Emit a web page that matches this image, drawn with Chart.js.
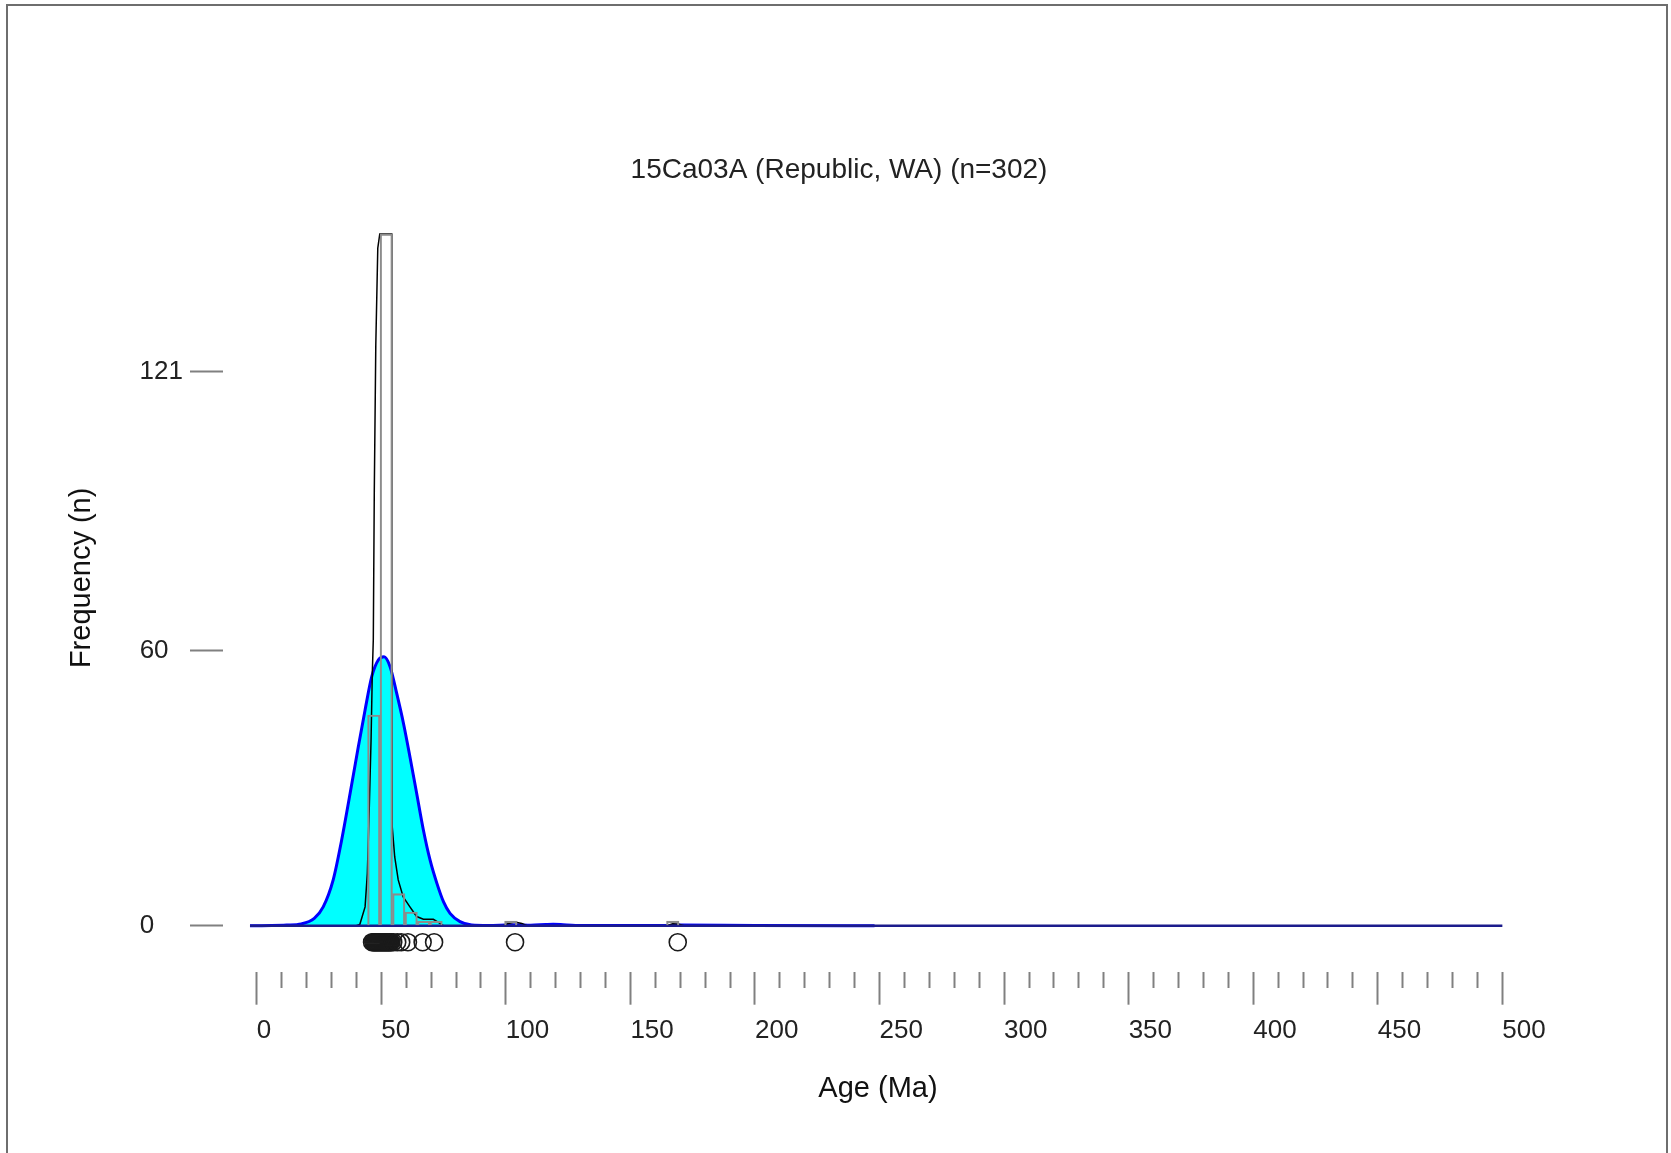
<!DOCTYPE html>
<html>
<head>
<meta charset="utf-8">
<script src="https://cdn.jsdelivr.net/npm/chart.js@4.4.1/dist/chart.umd.min.js"></script>
<style>
  html, body { margin: 0; padding: 0; background: #fff; overflow: hidden; }
  #wrap { position: relative; width: 1671px; height: 1153px; }
  #frame { position: absolute; left: 6px; top: 4px; width: 1658px; height: 1300px; border: 2px solid #6e6e6e; pointer-events: none; }
</style>
</head>
<body>
<div id="wrap">
  <canvas id="chart" width="1671" height="1153"></canvas>
  <div id="frame"></div>
</div>
<script>
// chart text
const chartTitle = "15Ca03A (Republic, WA) (n=302)";
const xTitle = "Age (Ma)";
const yTitle = "Frequency (n)";

// axis ticks
const xTicks = [0, 10, 20, 30, 40, 50, 60, 70, 80, 90, 100, 110, 120, 130, 140, 150, 160, 170, 180, 190,
  200, 210, 220, 230, 240, 250, 260, 270, 280, 290, 300, 310, 320, 330, 340, 350, 360, 370, 380, 390,
  400, 410, 420, 430, 440, 450, 460, 470, 480, 490, 500];
const yTicks = [0, 60, 121];

// kernel density estimate (cyan)
const kdeAge = [-2.7, 6, 12, 17.9, 23.1, 26.7, 30.7, 34.1, 37.5, 40.8, 43.5, 46.2, 48.8, 51.1, 53.5, 56.2,
  58.9, 61.5, 64.2, 66.9, 69.6, 72.3, 75.0, 77.6, 81.6, 86.3, 93, 100, 104, 110, 116, 119, 122, 128,
  165, 170, 200, 248];
const kdeVal = [0, 0.05, 0.15, 0.4, 1.6, 4.1, 10.0, 18.7, 28.9, 39.1, 47.1, 54.4, 58.0, 58.7, 56.6, 50.7,
  44.2, 36.9, 28.9, 20.9, 14.3, 9.3, 5.2, 2.7, 0.9, 0.15, 0.05, 0.15, 0.2, 0.1, 0.25, 0.3, 0.25, 0.05,
  0.05, 0.15, 0.05, 0];

// probability density plot (black line, top cut at plot limit)
const pdpAge = [40, 41.4, 43.5, 44.4, 45.2, 45.9, 46.4, 46.8, 47.2, 47.8, 48.6, 49.4, 54.2, 54.25, 54.4,
  55.4, 56.8, 58.8, 61.5, 64.2, 66.9, 70.9, 73.6, 74.9, 99, 101, 103.7, 106.4, 108.5, 164.5, 167, 169.5, 171.5];
const pdpVal = [0, 0.3, 4.1, 11.4, 26, 40.5, 55.1, 62.4, 94.9, 126.7, 147.9, 151, 151, 62.4, 21.6,
  15, 10, 6.3, 4.1, 2, 1.4, 1.4, 0.5, 0, 0, 0.5, 0.8, 0.5, 0, 0, 0.4, 0.3, 0];

// histogram, 5 Ma bins
const binCenter = [47, 52, 57, 62, 67, 72, 102, 167];
const binCount = [46, 151, 7, 3, 1, 1, 1, 1];

// zero line
const baseAge = [-2.7, 500];
const baseVal = [0, 0];

// individual grain ages (open circles under the curves)
const grainAge = [46.3, 46.8, 47.2, 47.6, 48.0, 48.4, 48.8, 49.2, 49.6, 50.0, 50.4, 50.8, 51.2, 51.6, 52.0,
  52.4, 52.8, 53.2, 53.6, 54.0, 54.8, 56.4, 58.0, 60.7, 66.6, 71.2, 103.7, 169.0];
const grainRow = -3.6;

const ff = "'Liberation Sans', Arial, sans-serif";
const tickGray = "#808080";

const toXY = (xs, ys) => xs.map((x, i) => ({ x: x, y: ys[i] }));

new Chart(document.getElementById("chart"), {
  type: "line",
  data: {
    datasets: [
      {
        type: "scatter",
        data: grainAge.map((a) => ({ x: a, y: grainRow })),
        pointRadius: 8.5,
        pointBorderWidth: 1.6,
        pointBorderColor: "#1a1a1a",
        pointBackgroundColor: "rgba(0,0,0,0)",
        showLine: false,
        order: 0,
      },
      {
        type: "bar",
        data: toXY(binCenter, binCount),
        borderColor: "#8c8c8c",
        borderWidth: 1.5,
        backgroundColor: "rgba(0,0,0,0)",
        categoryPercentage: 1,
        barPercentage: 1,
        order: 1,
      },
      {
        data: toXY(baseAge, baseVal),
        borderColor: "#1c1c8c",
        borderWidth: 2.5,
        pointRadius: 0,
        order: 2,
      },
      {
        data: toXY(pdpAge, pdpVal),
        borderColor: "#000",
        borderWidth: 1.5,
        pointRadius: 0,
        tension: 0,
        fill: false,
        order: 3,
      },
      {
        data: toXY(kdeAge, kdeVal),
        borderColor: "#0000ff",
        borderWidth: 3,
        backgroundColor: "#00ffff",
        fill: "origin",
        pointRadius: 0,
        cubicInterpolationMode: "monotone",
        order: 4,
      },
    ],
  },
  options: {
    responsive: false,
    animation: false,
    events: [],
    devicePixelRatio: 1,
    layout: { padding: { top: 5, left: 7, right: 0, bottom: 0 } },
    plugins: {
      legend: { display: false },
      tooltip: { enabled: false },
      title: {
        display: true,
        text: chartTitle,
        color: "#222",
        font: { family: ff, size: 28, weight: "normal", lineHeight: 1 },
        padding: { top: 151, bottom: 0 },
      },
    },
    scales: {
      x: {
        type: "linear",
        min: -13.53,
        max: 512.3,
        offset: false,
        afterBuildTicks: (s) => { s.ticks = xTicks.map((v) => ({ value: v })); },
        afterFit: (s) => { s.height = 181.3; s.paddingLeft = 0; s.paddingRight = 0; },
        grid: {
          offset: false,
          drawOnChartArea: false,
          tickLength: 33,
          tickColor: tickGray,
          tickWidth: 2,
          tickBorderDash: (c) => (c.tick && c.tick.value % 50 === 0 ? [] : [16, 40]),
        },
        border: { display: false },
        ticks: {
          autoSkip: false,
          maxRotation: 0,
          minRotation: 0,
          align: "start",
          padding: 11,
          color: "#222",
          font: { family: ff, size: 26 },
          callback: (v) => (v % 50 === 0 ? String(v) : ""),
        },
        title: {
          display: true,
          text: xTitle,
          color: "#111",
          font: { family: ff, size: 29 },
          padding: { top: 0, bottom: 46.5 },
        },
      },
      y: {
        min: -10.04,
        max: 161.9,
        afterBuildTicks: (s) => { s.ticks = yTicks.map((v) => ({ value: v })); },
        afterFit: (s) => { s.width = 216; },
        grid: { drawOnChartArea: false, tickLength: 33, tickColor: tickGray, tickWidth: 2 },
        border: { display: false },
        ticks: {
          padding: 7,
          color: "#222",
          font: { family: ff, size: 26 },
          // pad with spaces (2 spaces = 1 digit) so labels line up on the left
          callback: (v) => String(v) + "  ".repeat(3 - String(v).length),
        },
        title: {
          display: true,
          text: yTitle,
          color: "#111",
          font: { family: ff, size: 29 },
          padding: { top: 57.6, bottom: 0 },
        },
      },
      y2: {
        position: "right",
        afterFit: (s) => { s.width = 138; },
        grid: { display: false },
        border: { display: false },
        ticks: { display: false },
      },
    },
  },
});
</script>
</body>
</html>
